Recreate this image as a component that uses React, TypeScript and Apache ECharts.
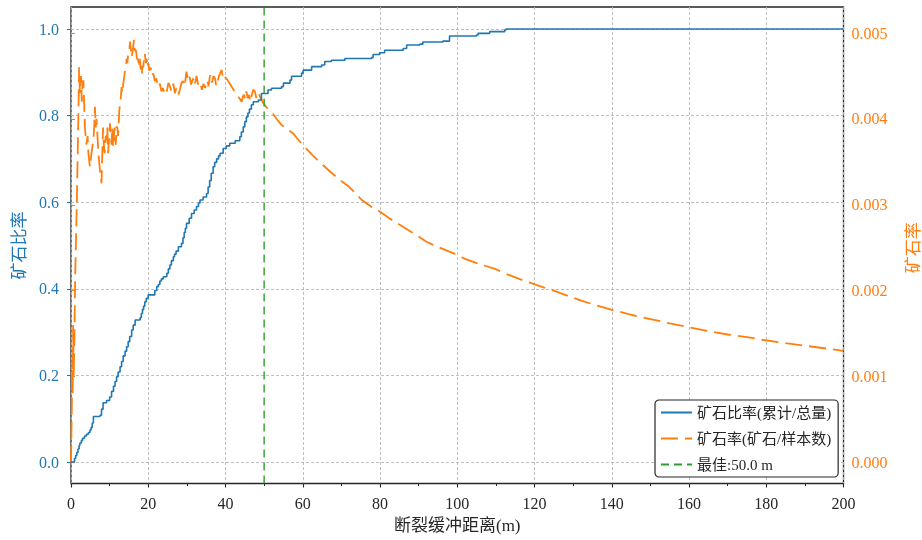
import React, { useEffect, useRef } from "react";
import * as echarts from "echarts";

// ---- data ----
const xTicks = [0, 20, 40, 60, 80, 100, 120, 140, 160, 180, 200];
const leftTicks = [0.0, 0.2, 0.4, 0.6, 0.8, 1.0];
const rightTicks = [0.0, 0.001, 0.002, 0.003, 0.004, 0.005];

const seriesNames = ["矿石比率(累计/总量)", "矿石率(矿石/样本数)", "最佳:50.0 m"];
const bestDistance = 50;

// cumulative ore proportion (step curve): [distance, proportion]
const oreRatio: [number, number][] = [
  [0, 0], [0.6, 0.0], [0.9, 0.008], [1.2, 0.015], [1.5, 0.022], [1.8, 0.03], [2.1, 0.038],
  [2.3, 0.044], [2.7, 0.05], [3.0, 0.055], [3.5, 0.06], [4.0, 0.064], [4.5, 0.068],
  [4.9, 0.074], [5.2, 0.08], [5.5, 0.09], [5.8, 0.105], [7.5, 0.108], [7.9, 0.122],
  [8.3, 0.137], [9.2, 0.142], [10, 0.15], [10.5, 0.163], [11, 0.175], [11.4, 0.186],
  [11.8, 0.197], [12.2, 0.208], [12.7, 0.22], [13.1, 0.232], [13.5, 0.245], [14.0, 0.256],
  [14.4, 0.266], [14.8, 0.278], [15.2, 0.29], [15.7, 0.305], [16.1, 0.316], [16.6, 0.328],
  [17.9, 0.333], [18.2, 0.343], [18.5, 0.352], [18.8, 0.36], [19.1, 0.37], [19.5, 0.378],
  [20, 0.386], [21.3, 0.386], [21.7, 0.396], [22.2, 0.405], [22.6, 0.41], [23.0, 0.418],
  [23.4, 0.423], [23.9, 0.428], [24.8, 0.436], [25.2, 0.446], [25.6, 0.455], [26.0, 0.465],
  [26.5, 0.474], [26.8, 0.48], [27.2, 0.487], [27.8, 0.497], [28.6, 0.505], [29.0, 0.518],
  [29.3, 0.53], [29.6, 0.54], [29.9, 0.551], [30.6, 0.563], [31.2, 0.574], [31.9, 0.582],
  [32.5, 0.59], [33.0, 0.598], [33.4, 0.605], [34.2, 0.612], [35.1, 0.62], [35.5, 0.635],
  [35.9, 0.65], [36.3, 0.667], [36.8, 0.682], [37.2, 0.692], [37.7, 0.7], [38.2, 0.707],
  [38.6, 0.713], [39.4, 0.724], [40.2, 0.73], [41.1, 0.736], [42.5, 0.742], [43.7, 0.751],
  [44.1, 0.762], [44.6, 0.774], [45.0, 0.786], [45.4, 0.797], [45.8, 0.806], [46.2, 0.815],
  [46.7, 0.825], [47.2, 0.832], [48.5, 0.836], [49.3, 0.851], [51, 0.859], [51.9, 0.863],
  [54.5, 0.867], [55, 0.875], [56.7, 0.882], [57.1, 0.891], [59.7, 0.898], [60.1, 0.905],
  [62.3, 0.913], [64.9, 0.917], [65.7, 0.925], [67.4, 0.928], [70.9, 0.932], [77.8, 0.934],
  [78.2, 0.941], [79.9, 0.945], [81.2, 0.951], [86, 0.955], [86.9, 0.963], [90.3, 0.965],
  [91.1, 0.97], [96.3, 0.972], [98, 0.984], [105, 0.986], [105.4, 0.99], [108.4, 0.994],
  [112.3, 0.998], [112.6, 1.0], [200, 1.0],
];

// ore rate (ore / samples): [distance, rate]
const oreRate: [number, number][] = [
  [0, 0], [0.2, 0.0006], [0.35, 0.0012], [0.45, 0.0008], [0.55, 0.0016], [0.7, 0.001],
  [0.85, 0.0014], [1.1, 0.0022], [1.5, 0.003], [1.9, 0.004], [2.1, 0.0046], [2.3, 0.0043],
  [2.6, 0.0045], [2.8, 0.0042], [3.0, 0.0044], [3.2, 0.00445], [3.4, 0.0042], [3.6, 0.0039],
  [4.0, 0.0037], [4.3, 0.0038], [4.5, 0.0036], [4.9, 0.00344], [5.3, 0.0036], [5.6, 0.0037],
  [5.8, 0.00375], [6.0, 0.0039], [6.2, 0.00414], [6.4, 0.0039], [6.6, 0.004], [7.1, 0.0036],
  [7.5, 0.0034], [7.9, 0.00325], [8.1, 0.0036], [8.3, 0.0039], [8.5, 0.0037], [8.7, 0.0036],
  [9.0, 0.0038], [9.2, 0.00375], [9.4, 0.0039], [9.6, 0.0036], [9.9, 0.0038], [10.1, 0.00395],
  [10.3, 0.0038], [10.5, 0.0037], [10.7, 0.0039], [10.9, 0.00367], [11.1, 0.0038], [11.3, 0.0039],
  [11.6, 0.0037], [11.8, 0.00391], [12.0, 0.0039], [12.2, 0.0038], [12.5, 0.0041], [12.8, 0.0042],
  [13.1, 0.00437], [13.3, 0.0043], [13.5, 0.0044], [13.8, 0.0045], [14.0, 0.00457],
  [14.2, 0.0046], [14.4, 0.0047], [14.6, 0.00465], [14.8, 0.00476], [15.1, 0.0048],
  [15.3, 0.0049], [15.5, 0.0048], [15.7, 0.00472], [16.0, 0.0048], [16.3, 0.00492],
  [16.5, 0.0048], [16.8, 0.0048], [17.1, 0.0047], [17.4, 0.00469], [17.6, 0.0046],
  [17.8, 0.0047], [18.0, 0.0046], [18.3, 0.00451], [18.5, 0.00462], [18.7, 0.0046],
  [18.9, 0.0047], [19.1, 0.00476], [19.4, 0.00465], [19.6, 0.0047], [19.8, 0.0046],
  [20, 0.00465], [20.3, 0.00456], [20.6, 0.0046], [20.9, 0.0045], [21.3, 0.00453],
  [21.7, 0.00444], [22.1, 0.00447], [22.5, 0.00437], [23, 0.00441], [23.4, 0.00432],
  [23.8, 0.00436], [24.3, 0.00428], [24.8, 0.00432], [25.2, 0.00442], [25.6, 0.00438],
  [26.0, 0.00432], [26.5, 0.00441], [26.9, 0.0043], [27.3, 0.00436], [27.8, 0.00428],
  [28.2, 0.00434], [28.6, 0.00442], [29.0, 0.00444], [29.4, 0.00438], [29.9, 0.00455],
  [30.3, 0.00444], [30.7, 0.00449], [31.1, 0.0044], [31.6, 0.00447], [32.0, 0.00439],
  [32.5, 0.0045], [32.9, 0.0044], [33.4, 0.00443], [33.9, 0.00434], [34.3, 0.00441],
  [34.7, 0.00436], [35.3, 0.00445], [35.6, 0.00438], [36, 0.00451], [36.3, 0.00442],
  [36.6, 0.00444], [36.9, 0.0045], [37.3, 0.00447], [37.6, 0.00438], [38, 0.00444],
  [38.3, 0.0045], [38.6, 0.00453], [39, 0.00457], [39.4, 0.00446], [39.8, 0.00449],
  [40.4, 0.00446], [41.1, 0.00441], [41.8, 0.00436], [42.4, 0.00432], [43.3, 0.00426],
  [44.2, 0.0042], [44.5, 0.00426], [44.8, 0.00428], [45.1, 0.00423], [45.4, 0.00432],
  [45.8, 0.00424], [46.1, 0.00428], [46.4, 0.0042], [46.7, 0.00426], [47.0, 0.00431],
  [47.2, 0.00434], [47.6, 0.00432], [48.0, 0.00424], [48.3, 0.00426], [48.6, 0.0043],
  [48.9, 0.00426], [49.6, 0.0042], [50.5, 0.00414], [51.4, 0.0041], [52.3, 0.00406],
  [53.4, 0.00399], [54.5, 0.00393], [56, 0.00388], [57.5, 0.00383], [58.8, 0.00376],
  [60.1, 0.00369], [62.7, 0.00357], [65.3, 0.00346], [67.5, 0.00337], [69.6, 0.00329],
  [72, 0.00321], [75.2, 0.00306], [78, 0.00297], [80, 0.00292], [82.5, 0.00284],
  [85, 0.00277], [89.4, 0.00265], [92, 0.00257], [95, 0.00251], [99.8, 0.00242],
  [102, 0.00237], [105.8, 0.00231], [110, 0.00225], [113, 0.00219], [117, 0.00212],
  [121, 0.00206], [125, 0.002], [131.7, 0.00189], [136, 0.00183], [140.3, 0.001775],
  [145, 0.00172], [150, 0.00167], [155, 0.00162], [159.3, 0.00158], [165, 0.00153],
  [170, 0.00149], [175, 0.00146], [179.3, 0.001426], [185, 0.00139], [190, 0.00136],
  [195, 0.00133], [200, 0.0013],
];

const BLUE = "#1f77b4";
const ORANGE = "#ff7f0e";
const GREEN = "#2ca02c";
const FONT = '"Liberation Serif", "Noto Sans CJK SC", serif';

export default function App() {
  const ref = useRef<HTMLDivElement>(null);
  useEffect(() => {
    if (!ref.current) return;
    const chart = echarts.init(ref.current, null, { renderer: "svg" });
    const L = 71, W = 772.5;
    const gridLine = { show: true, lineStyle: { color: "#b8b8b8", type: [3, 2], width: 0.9 } };
    chart.setOption({
      animation: false,
      textStyle: { fontFamily: FONT },
      grid: [
        { left: L, top: 7, width: W, height: 476.5, show: true, borderColor: "#262626", borderWidth: 1.3, backgroundColor: "transparent", containLabel: false, outerBoundsMode: "none" },
        { left: L, top: 29, width: W, height: 433, containLabel: false, outerBoundsMode: "none" },
        { left: L, top: 33, width: W, height: 429.5, containLabel: false, outerBoundsMode: "none" },
      ],
      legend: {
        orient: "vertical",
        left: 655,
        top: 400,
        data: seriesNames,
        itemWidth: 31,
        itemHeight: 14,
        itemGap: 11,
        padding: [5, 7, 5, 5],
        borderColor: "#262626",
        borderWidth: 1.2,
        borderRadius: 4,
        backgroundColor: "#fff",
        itemStyle: { opacity: 0 },
        textStyle: { fontSize: 15, color: "#262626", fontFamily: FONT },
      },
      xAxis: [
        {
          gridIndex: 0, type: "value", min: xTicks[0], max: xTicks[xTicks.length - 1], interval: 20,
          axisLine: { show: false },
          axisTick: { show: true, length: 4, lineStyle: { color: "#262626", width: 1.1 } },
          minorTick: { show: true, splitNumber: 2, length: 2.5, lineStyle: { color: "#262626", width: 1 } },
          axisLabel: { fontSize: 16, color: "#262626", margin: 12, fontFamily: FONT },
          splitLine: gridLine,
          name: "断裂缓冲距离(m)", nameLocation: "middle", nameGap: 33,
          nameTextStyle: { fontSize: 17, color: "#262626", fontFamily: FONT },
        },
        { gridIndex: 1, type: "value", min: 0, max: 200, show: false },
        { gridIndex: 2, type: "value", min: 0, max: 200, show: false },
      ],
      yAxis: [
        { gridIndex: 0, type: "value", min: 0, max: 1, show: false },
        {
          gridIndex: 1, type: "value", position: "left", min: leftTicks[0], max: leftTicks[leftTicks.length - 1], interval: 0.2,
          axisLine: { show: false },
          axisTick: { show: true, length: 4, lineStyle: { color: BLUE, width: 1.1 } },
          axisLabel: { fontSize: 16, color: BLUE, margin: 12, fontFamily: FONT, formatter: (v: number) => v.toFixed(1) },
          splitLine: gridLine,
          name: "矿石比率", nameLocation: "middle", nameGap: 43, nameRotate: 90,
          nameTextStyle: { fontSize: 17, color: BLUE, fontFamily: FONT },
        },
        {
          gridIndex: 2, type: "value", position: "right", min: rightTicks[0], max: rightTicks[rightTicks.length - 1], interval: 0.001,
          axisLine: { show: false },
          axisTick: { show: true, length: 4, lineStyle: { color: ORANGE, width: 1.1 } },
          axisLabel: { fontSize: 16, color: ORANGE, margin: 8, fontFamily: FONT, formatter: (v: number) => v.toFixed(3) },
          splitLine: { show: false },
          name: "矿石率", nameLocation: "middle", nameGap: 61, nameRotate: 90,
          nameTextStyle: { fontSize: 17, color: ORANGE, fontFamily: FONT },
        },
      ],
      series: [
        {
          name: seriesNames[0], type: "line", xAxisIndex: 1, yAxisIndex: 1, data: oreRatio,
          step: "end", symbol: "none", clip: false, z: 3,
          lineStyle: { color: BLUE, width: 1.6 }, itemStyle: { color: BLUE },
        },
        {
          name: seriesNames[1], type: "line", xAxisIndex: 2, yAxisIndex: 2, data: oreRate,
          symbol: "none", clip: false, z: 2,
          lineStyle: { color: ORANGE, width: 1.8, type: [17, 7] }, itemStyle: { color: ORANGE },
        },
        {
          name: seriesNames[2], type: "line", xAxisIndex: 0, yAxisIndex: 0,
          data: [[bestDistance, 0], [bestDistance, 1]],
          symbol: "none", clip: false, z: 2,
          lineStyle: { color: GREEN, width: 1.4, type: [8, 5] }, itemStyle: { color: GREEN },
        },
      ],
    });
    return () => chart.dispose();
  }, []);
  return <div ref={ref} style={{ position: "fixed", left: 0, top: 0, width: 922, height: 540 }} />;
}
